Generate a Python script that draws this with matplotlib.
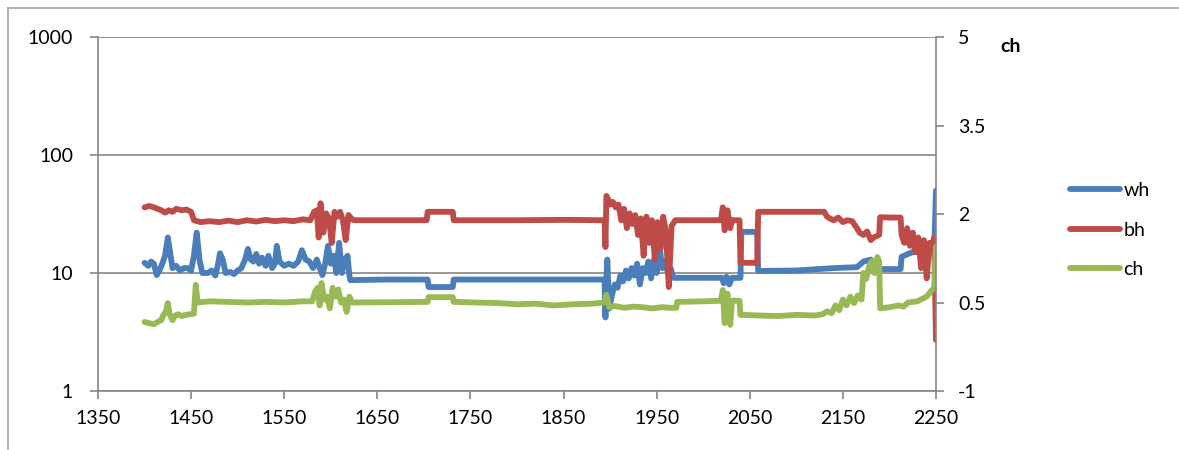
import matplotlib
matplotlib.use("Agg")
import matplotlib.pyplot as plt
from matplotlib.lines import Line2D
from matplotlib.ticker import FixedLocator, NullLocator, FuncFormatter

# ---- data -------------------------------------------------------------
wh_x = [1400, 1404, 1407, 1410, 1413, 1416, 1419, 1422, 1425, 1428, 1430, 1434,
        1438, 1442, 1446, 1450, 1453, 1456, 1459, 1462, 1468, 1472, 1476, 1479,
        1481, 1484, 1487, 1492, 1496, 1500, 1504, 1508, 1511, 1514, 1517, 1520,
        1523, 1526, 1530, 1533, 1537, 1540, 1542, 1545, 1550, 1555, 1560, 1565,
        1569, 1573, 1577, 1581, 1585, 1588, 1591, 1594, 1597, 1600, 1603, 1606,
        1609, 1612, 1615, 1618, 1620, 1621, 1660, 1704, 1705, 1731, 1732, 1800,
        1894, 1895, 1896, 1897, 1899, 1902, 1905, 1908, 1911, 1914, 1917, 1920,
        1923, 1926, 1929, 1932, 1935, 1938, 1941, 1944, 1947, 1950, 1953, 1956,
        1959, 1962, 1965, 1968, 1975, 2020, 2022, 2025, 2028, 2031, 2040, 2041,
        2058, 2059, 2100, 2140, 2165, 2172, 2180, 2186, 2212, 2213, 2220, 2225,
        2230, 2235, 2240, 2245, 2248, 2250]
wh_y = [12.2, 11.5, 12.5, 12, 9.6, 10.5, 12, 14, 20, 14, 11, 11.5,
        10.5, 11, 11, 10.5, 14, 22, 13, 10, 10, 10.5, 9.5, 12,
        14.7, 13, 10, 10.2, 9.8, 10.5, 11, 13, 16, 13, 12.5, 14.5,
        12, 13.5, 11.5, 14, 11, 12, 17, 12.5, 11.5, 12, 11.5, 12.5,
        15.6, 13, 12.5, 11, 13, 11, 9.6, 12, 17, 12, 14, 10,
        18, 10, 13, 14, 9.5, 8.7, 8.8, 8.8, 7.6, 7.6, 8.8, 8.8,
        8.8, 4.2, 9, 13, 5, 6.5, 8, 7.5, 9.5, 8.5, 10.5, 9,
        11, 9.5, 12, 8, 11, 10, 12.5, 9, 13, 10, 17, 11,
        12.5, 10, 11, 9.1, 9.1, 9.1, 8.2, 9.3, 8.0, 9.1, 9.1, 22.3,
        22.3, 10.4, 10.5, 11, 11.2, 12.5, 13, 10.8, 10.8, 13.7, 14.5, 15,
        17, 14, 16, 18, 15, 50]

bh_x = [1400, 1405, 1410, 1414, 1418, 1422, 1426, 1430, 1434, 1440, 1445, 1450,
        1453, 1460, 1470, 1480, 1490, 1500, 1510, 1520, 1530, 1540, 1550, 1560,
        1570, 1578, 1582, 1585, 1587, 1589, 1592, 1595, 1598, 1601, 1604, 1607,
        1610, 1613, 1616, 1619, 1622, 1625, 1703, 1704, 1731, 1732, 1800, 1850,
        1894, 1895, 1896, 1898, 1900, 1903, 1906, 1909, 1912, 1915, 1918, 1921,
        1924, 1927, 1930, 1933, 1936, 1939, 1942, 1945, 1948, 1951, 1954, 1957,
        1960, 1963, 1966, 1970, 2000, 2019, 2021, 2023, 2026, 2029, 2031, 2039,
        2040, 2058, 2059, 2100, 2130, 2133, 2136, 2140, 2145, 2150, 2155, 2160,
        2165, 2168, 2172, 2176, 2180, 2183, 2189, 2190, 2200, 2212, 2213, 2216,
        2219, 2222, 2225, 2228, 2231, 2234, 2237, 2240, 2243, 2246, 2248, 2250]
bh_y = [36, 37, 36, 35, 34, 32.5, 34, 33, 35, 34, 34.5, 33,
        28, 27, 27.5, 27, 27.8, 27, 28, 27.3, 28.2, 27.5, 28, 27.5,
        28.5, 28, 33, 34, 20, 39, 22, 32, 29, 18, 33, 30,
        33, 28, 19, 31, 29, 28, 28, 33, 33, 28, 28, 28.2,
        28, 16.6, 45, 42, 38, 40, 36, 38, 28, 35, 24, 32,
        26, 31, 21, 29, 14, 30, 18, 28, 13, 27, 16, 30,
        22, 7.6, 25, 28, 28, 28, 36, 23, 34, 24, 28, 28,
        12.2, 12.2, 33, 33, 33, 30, 29, 28, 29.5, 27, 28, 27.5,
        24, 22, 21, 22.5, 19, 20, 21, 29.7, 29.5, 29.5, 21, 18,
        24, 17, 22, 15, 20, 11, 19, 9, 18, 17, 20, 2.7]

ch_x = [1400, 1405, 1410, 1414, 1418, 1420, 1423, 1425, 1427, 1430, 1433, 1436,
        1440, 1444, 1448, 1453, 1455, 1457, 1470, 1490, 1510, 1530, 1550, 1570,
        1580, 1583, 1586, 1588, 1590, 1593, 1596, 1599, 1602, 1605, 1608, 1611,
        1614, 1617, 1620, 1623, 1704, 1705, 1731, 1732, 1780, 1800, 1820, 1840,
        1860, 1880, 1894, 1896, 1899, 1905, 1915, 1925, 1935, 1945, 1955, 1965,
        1971, 1972, 2000, 2019, 2021, 2023, 2026, 2029, 2031, 2039, 2040, 2060,
        2080, 2100, 2120, 2128, 2133, 2138, 2142, 2146, 2150, 2154, 2158, 2162,
        2166, 2170, 2172, 2175, 2178, 2181, 2184, 2187, 2189, 2190, 2200, 2210,
        2215, 2220, 2230, 2240, 2245, 2248, 2250]
ch_y = [0.17, 0.15, 0.13, 0.17, 0.2, 0.28, 0.35, 0.49, 0.3, 0.2, 0.28, 0.3,
        0.27, 0.29, 0.3, 0.31, 0.8, 0.5, 0.52, 0.51, 0.5, 0.51, 0.5, 0.52,
        0.52, 0.68, 0.75, 0.45, 0.83, 0.55, 0.6, 0.4, 0.75, 0.6, 0.72, 0.5,
        0.55, 0.34, 0.6, 0.5, 0.51, 0.59, 0.59, 0.51, 0.49, 0.47, 0.48, 0.45,
        0.47, 0.48, 0.5, 0.63, 0.42, 0.44, 0.41, 0.43, 0.42, 0.4, 0.42, 0.41,
        0.41, 0.51, 0.52, 0.53, 0.71, 0.15, 0.65, 0.12, 0.53, 0.53, 0.29, 0.28,
        0.27, 0.29, 0.28, 0.3, 0.35, 0.32, 0.45, 0.37, 0.55, 0.45, 0.6, 0.49,
        0.62, 0.55, 1.0, 0.9, 1.1, 1.2, 1.0, 1.27, 1.2, 0.4, 0.42, 0.45,
        0.43, 0.5, 0.52, 0.6, 0.7, 0.75, 1.45]

x_ticks = [1350, 1450, 1550, 1650, 1750, 1850, 1950, 2050, 2150, 2250]
left_ticks = [1, 10, 100, 1000]
right_ticks = [-1, 0.5, 2, 3.5, 5]

# ---- style ------------------------------------------------------------
BLUE = "#4A7EBB"
RED = "#BE4B48"
GREEN = "#98B954"
AXIS = "#868686"
FONT = "Lato"
FS = 14
LW = 4.2

plt.rcParams["font.family"] = [FONT, "DejaVu Sans"]

fig = plt.figure(figsize=(11.79, 4.5), dpi=100)
ax = fig.add_axes([98 / 1179, 1 - 391 / 450, (936 - 98) / 1179, (391 - 37) / 450])
ax2 = ax.twinx()

line_kw = dict(lw=LW, solid_joinstyle="round", solid_capstyle="round")
ax.plot(wh_x, wh_y, color=BLUE, **line_kw)
ax.plot(bh_x, bh_y, color=RED, **line_kw)
ax2.plot(ch_x, ch_y, color=GREEN, **line_kw)

ax.set_yscale("log")
ax.set_ylim(1, 1000)
ax.set_xlim(1350, 2250)
ax2.set_ylim(-1, 5)

ax.yaxis.set_major_locator(FixedLocator(left_ticks))
ax.yaxis.set_minor_locator(NullLocator())
ax.yaxis.set_major_formatter(FuncFormatter(lambda v, p: f"{v:g}"))
ax.xaxis.set_major_locator(FixedLocator(x_ticks))
ax2.yaxis.set_major_locator(FixedLocator(right_ticks))
ax2.yaxis.set_major_formatter(FuncFormatter(lambda v, p: f"{v:g}"))

ax.grid(axis="y", which="major", color=AXIS, lw=1.2)
ax.set_axisbelow(True)

for a in (ax, ax2):
    a.spines["top"].set_visible(False)
    for s in ("left", "right", "bottom"):
        a.spines[s].set_color(AXIS)
        a.spines[s].set_linewidth(1.2)
    a.tick_params(colors=AXIS, labelcolor="black", labelsize=FS, width=1.2, length=6)
ax.spines["right"].set_visible(False)
ax2.spines["left"].set_visible(False)
ax2.spines["bottom"].set_visible(False)
ax.tick_params(axis="y", pad=12)
ax.tick_params(axis="x", pad=8)
ax2.tick_params(axis="y", pad=10)

# right-axis title
fig.text(1000 / 1179, 1 - 47 / 450, "ch", fontsize=FS, fontweight="bold",
         ha="left", va="center")

# legend
handles = [Line2D([], [], color=c, lw=LW, solid_capstyle="round") for c in (BLUE, RED, GREEN)]
fig.legend(handles, ["wh", "bh", "ch"], loc="center left",
           bbox_to_anchor=(1062 / 1179, 1 - 230 / 450), frameon=False,
           fontsize=FS, handlelength=2.6, handletextpad=0.15, labelspacing=1.15,
           borderaxespad=0)

# chart-area border
fig.add_artist(Line2D([8 / 1179, 8 / 1179], [0, 1 - 8 / 450], transform=fig.transFigure,
                      color="#a6a6a6", lw=1.2))
fig.add_artist(Line2D([8 / 1179, 1], [1 - 8 / 450, 1 - 8 / 450], transform=fig.transFigure,
                      color="#a6a6a6", lw=1.2))

fig.savefig("out.png", dpi=100)
